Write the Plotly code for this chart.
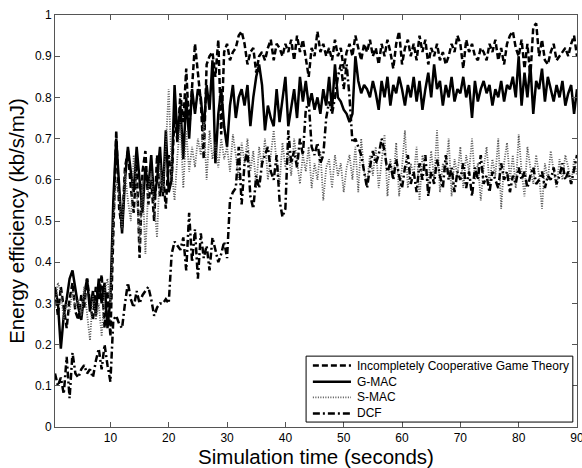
import plotly.graph_objects as go

# time axis: 0.5 s steps from 0.5 to 90 s
t = [0.5 * i for i in range(1, 181)]

icgt = [
    0.33, 0.27, 0.34, 0.29, 0.24, 0.31, 0.35, 0.28, 0.26, 0.32,
    0.29, 0.36, 0.30, 0.26, 0.34, 0.31, 0.37, 0.24, 0.33, 0.22,
    0.46, 0.72, 0.53, 0.48, 0.63, 0.67, 0.58, 0.52, 0.65, 0.41,
    0.62, 0.67, 0.54, 0.60, 0.50, 0.66, 0.56, 0.62, 0.53, 0.66,
    0.60, 0.76, 0.69, 0.81, 0.74, 0.87, 0.72, 0.84, 0.93, 0.86,
    0.79, 0.65, 0.88, 0.90, 0.91, 0.85, 0.94, 0.71, 0.91, 0.93,
    0.89, 0.91, 0.92, 0.95, 0.96, 0.93, 0.88, 0.91, 0.92, 0.86,
    0.90, 0.91, 0.89, 0.92, 0.94, 0.89, 0.93, 0.92, 0.90, 0.93,
    0.91, 0.94, 0.89, 0.95, 0.91, 0.94, 0.89, 0.85, 0.92, 0.90,
    0.96, 0.91, 0.93, 0.90, 0.92, 0.89, 0.94, 0.90, 0.92, 0.87,
    0.91, 0.93, 0.90, 0.95, 0.92, 0.89, 0.93, 0.91, 0.94, 0.90,
    0.92, 0.88, 0.93, 0.90, 0.94, 0.91, 0.87, 0.93, 0.96, 0.88,
    0.92, 0.94, 0.90, 0.93, 0.89, 0.95, 0.91, 0.94, 0.88, 0.92,
    0.90, 0.93, 0.89, 0.91, 0.88, 0.90, 0.93, 0.91, 0.95, 0.93,
    0.87, 0.94, 0.91, 0.93, 0.90, 0.89, 0.92, 0.91, 0.89, 0.93,
    0.91, 0.94, 0.89, 0.92, 0.88, 0.93, 0.95, 0.96, 0.92, 0.90,
    0.94, 0.87, 0.93, 0.85, 0.97, 0.98, 0.90, 0.94, 0.89, 0.88,
    0.91, 0.93, 0.89, 0.90, 0.91, 0.92, 0.90, 0.93, 0.95, 0.90,
]

gmac = [
    0.34, 0.30, 0.19, 0.27, 0.31, 0.36, 0.38, 0.33, 0.29, 0.26,
    0.32, 0.36, 0.28, 0.33, 0.27, 0.36, 0.30, 0.35, 0.24, 0.31,
    0.55, 0.70, 0.58, 0.47, 0.60, 0.68, 0.62, 0.57, 0.68, 0.60,
    0.52, 0.63, 0.58, 0.66, 0.55, 0.60, 0.68, 0.56, 0.72, 0.57,
    0.60, 0.83, 0.70, 0.78, 0.65, 0.80, 0.70, 0.82, 0.76, 0.82,
    0.80, 0.72, 0.83, 0.77, 0.89, 0.64, 0.76, 0.82, 0.73, 0.68,
    0.78, 0.83, 0.75, 0.80, 0.82, 0.78, 0.83, 0.73, 0.80, 0.85,
    0.88, 0.83, 0.72, 0.78, 0.75, 0.73, 0.82, 0.74, 0.79, 0.85,
    0.73, 0.77, 0.82, 0.75, 0.85, 0.79, 0.84, 0.78, 0.81, 0.77,
    0.80, 0.76, 0.82, 0.78, 0.85, 0.77, 0.88, 0.80, 0.79, 0.77,
    0.76, 0.74, 0.76, 0.90, 0.84, 0.81, 0.83, 0.82, 0.80, 0.84,
    0.81, 0.77, 0.84, 0.80, 0.85, 0.78, 0.83, 0.81, 0.85, 0.82,
    0.78, 0.83, 0.80, 0.85, 0.79, 0.84, 0.77, 0.82, 0.86, 0.80,
    0.88, 0.82, 0.84, 0.78, 0.83, 0.80, 0.85, 0.79, 0.82, 0.81,
    0.85, 0.80, 0.83, 0.75, 0.84, 0.79, 0.82, 0.84, 0.81, 0.83,
    0.78, 0.82, 0.80, 0.84, 0.79, 0.83, 0.82, 0.85, 0.80, 0.90,
    0.78, 0.86, 0.80, 0.88, 0.76, 0.84, 0.82, 0.87, 0.79, 0.85,
    0.82, 0.79, 0.83, 0.80, 0.84, 0.78, 0.81, 0.83, 0.76, 0.82,
]

smac = [
    0.29, 0.35, 0.33, 0.26, 0.30, 0.28, 0.33, 0.29, 0.31, 0.27,
    0.34, 0.28, 0.21, 0.32, 0.26, 0.30, 0.22, 0.33, 0.36, 0.30,
    0.50, 0.60, 0.56, 0.48, 0.62, 0.55, 0.50, 0.66, 0.58, 0.44,
    0.60, 0.42, 0.58, 0.62, 0.54, 0.46, 0.64, 0.57, 0.68, 0.82,
    0.62, 0.55, 0.66, 0.74, 0.58, 0.72, 0.62, 0.68, 0.63, 0.70,
    0.66, 0.74, 0.60, 0.72, 0.65, 0.69, 0.63, 0.70, 0.65, 0.68,
    0.62, 0.71, 0.66, 0.60, 0.69, 0.64, 0.70, 0.62, 0.67, 0.58,
    0.68, 0.63, 0.70, 0.60, 0.66, 0.72, 0.64, 0.59, 0.69, 0.63,
    0.67, 0.61, 0.70, 0.64, 0.59, 0.66, 0.62, 0.68, 0.58, 0.64,
    0.60, 0.67, 0.55, 0.63, 0.65, 0.58, 0.66, 0.61, 0.64, 0.57,
    0.63, 0.66, 0.60, 0.68, 0.57, 0.70, 0.62, 0.59, 0.66, 0.61,
    0.68, 0.58, 0.64, 0.71, 0.56, 0.65, 0.60, 0.69, 0.56, 0.63,
    0.72, 0.58, 0.64, 0.61, 0.68, 0.55, 0.66, 0.62, 0.59, 0.67,
    0.60, 0.72, 0.57, 0.64, 0.62, 0.70, 0.56, 0.65, 0.61, 0.68,
    0.58, 0.66, 0.62, 0.70, 0.60, 0.64, 0.55, 0.63, 0.68, 0.59,
    0.65, 0.61, 0.70, 0.53, 0.64, 0.69, 0.60, 0.66, 0.58, 0.71,
    0.62, 0.56, 0.68, 0.63, 0.59, 0.66, 0.61, 0.53, 0.64, 0.60,
    0.67, 0.62, 0.58, 0.65, 0.60, 0.66, 0.63, 0.59, 0.65, 0.61,
]

dcf = [
    0.13, 0.10, 0.12, 0.08, 0.17, 0.07, 0.18, 0.13, 0.12, 0.14,
    0.15, 0.13, 0.14, 0.12, 0.16, 0.19, 0.14, 0.20, 0.15, 0.11,
    0.26, 0.27, 0.25, 0.24, 0.30, 0.35, 0.31, 0.29, 0.33, 0.30,
    0.32, 0.33, 0.34, 0.31, 0.27, 0.29, 0.30, 0.30, 0.31, 0.30,
    0.42, 0.45, 0.44, 0.43, 0.46, 0.38, 0.52, 0.40, 0.48, 0.36,
    0.47, 0.41, 0.44, 0.38, 0.46, 0.43, 0.40, 0.42, 0.45, 0.41,
    0.55, 0.57, 0.58, 0.68, 0.54, 0.64, 0.67, 0.56, 0.53, 0.61,
    0.58, 0.64, 0.66, 0.68, 0.62, 0.60, 0.66, 0.55, 0.51, 0.53,
    0.72, 0.64, 0.67, 0.63, 0.70, 0.66, 0.77, 0.79, 0.68, 0.66,
    0.69, 0.64, 0.66, 0.75, 0.79, 0.76, 0.80, 0.85, 0.88, 0.82,
    0.88, 0.80, 0.69, 0.70, 0.68, 0.66, 0.62, 0.58, 0.63, 0.67,
    0.64, 0.66, 0.70, 0.67, 0.62, 0.64, 0.60, 0.65, 0.61, 0.58,
    0.63, 0.66, 0.59, 0.62, 0.57, 0.64, 0.60, 0.66, 0.56, 0.62,
    0.59, 0.65, 0.61, 0.58, 0.66, 0.60, 0.63, 0.57, 0.62, 0.60,
    0.64, 0.58, 0.62, 0.56, 0.63, 0.60, 0.66, 0.59, 0.61, 0.57,
    0.62, 0.60, 0.58, 0.64, 0.60, 0.62, 0.57, 0.61, 0.59, 0.63,
    0.60, 0.62, 0.58, 0.61, 0.63, 0.59, 0.60, 0.62, 0.58, 0.61,
    0.60, 0.63, 0.59, 0.61, 0.64, 0.60, 0.62, 0.59, 0.63, 0.66,
]

names = ["Incompletely Cooperative Game Theory", "G-MAC", "S-MAC", "DCF"]
x_ticks = [10, 20, 30, 40, 50, 60, 70, 80, 90]
y_ticks = [0, 0.1, 0.2, 0.3, 0.4, 0.5, 0.6, 0.7, 0.8, 0.9, 1]
y_labels = ["0", "0.1", "0.2", "0.3", "0.4", "0.5", "0.6", "0.7", "0.8", "0.9", "1"]

series = [icgt, gmac, smac, dcf]
styles = [
    dict(color="black", width=2.5, dash="6px,3px"),
    dict(color="black", width=2.5),
    dict(color="#555555", width=1.8, dash="1px,1.5px"),
    dict(color="black", width=2.5, dash="7px,3px,2px,3px"),
]

fig = go.Figure()
for name, ys, st in zip(names, series, styles):
    fig.add_trace(go.Scatter(x=t, y=ys, name=name, mode="lines", line=st,
                             showlegend=False))

# compact MATLAB-style legend box (lower right, paper coordinates of the plot area)
shapes = [dict(type="rect", xref="paper", yref="paper", x0=0.481, x1=0.992,
               y0=0.012, y1=0.172, line=dict(color="black", width=1),
               fillcolor="white", layer="above")]
annotations = []
row_y = [0.149, 0.110, 0.072, 0.033]
for name, st, yy in zip(names, styles, row_y):
    shapes.append(dict(type="line", xref="paper", yref="paper", x0=0.494, x1=0.567,
                       y0=yy, y1=yy, line=st, layer="above"))
    annotations.append(dict(xref="paper", yref="paper", x=0.575, y=yy, text=name,
                            showarrow=False, xanchor="left", yanchor="middle",
                            font=dict(size=12, color="black")))

axis_common = dict(
    showgrid=False, zeroline=False, showline=True, linecolor="#555555", linewidth=1,
    mirror="ticks", ticks="inside", ticklen=5, tickcolor="#555555", automargin=False,
    tickfont=dict(family="Liberation Sans, Arial", size=12, color="black"),
)

fig.update_layout(
    width=582, height=468,
    margin=dict(l=55, r=5, t=15, b=41),
    paper_bgcolor="white", plot_bgcolor="white",
    font=dict(family="Liberation Sans, Arial", color="black"),
    xaxis=dict(range=[0.5, 90], tickvals=x_ticks, ticklabeloverflow="allow",
               title=dict(text="Simulation time (seconds)", font=dict(size=20.5), standoff=0),
               **axis_common),
    yaxis=dict(range=[0, 1], tickvals=y_ticks, ticktext=y_labels,
               title=dict(text="Energy efficiency (kb/s/mJ)", font=dict(size=20.5), standoff=4),
               **axis_common),
    shapes=shapes,
    annotations=annotations,
    showlegend=False,
)

fig.write_html("out.html")
